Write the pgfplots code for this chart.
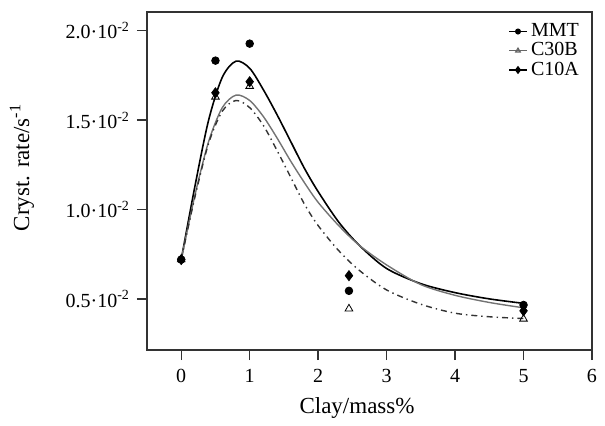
\documentclass[border=0pt]{standalone}
\usepackage{fontspec}
\setmainfont{Liberation Serif}
\usepackage{pgfplots}
\pgfplotsset{compat=1.18}

\begin{document}
\begin{tikzpicture}
\begin{axis}[
    name=ax,
    scale only axis,
    width=222.5pt, height=169pt,
    xmin=-0.5, xmax=6,
    ymin=0.214, ymax=2.105,
    xtick={0,1,2,3,4,5,6},
    ytick={0.5,1.0,1.5,2.0},
    yticklabels={0.5·10\textsuperscript{-2},1.0·10\textsuperscript{-2},1.5·10\textsuperscript{-2},2.0·10\textsuperscript{-2}},
    tick pos=left,
    tick align=outside,
    major tick length=5pt,
    axis line style={black!80, line width=1pt},
    every tick/.style={black!80, line width=0.7pt},
    ticklabel style={font=\fontsize{10}{12}\selectfont},
    xticklabel style={yshift=-1pt},
    /pgf/number format/assume math mode=true,
    xlabel={Clay/mass\%},
    ylabel={Cryst. rate/s\textsuperscript{-1}},
    every axis x label/.style={at={(axis description cs:0.472,-0.172)}, anchor=center, font=\fontsize{11.5}{13}\selectfont},
    every axis y label/.style={at={(axis description cs:-0.281,0.54)}, anchor=center, rotate=90, font=\fontsize{11.5}{13}\selectfont},
    legend style={at={(axis description cs:0.985,0.985)}, anchor=north east, draw=none, fill=none,
      font=\fontsize{10}{11}\selectfont, row sep=-2.5pt, inner sep=1pt},
    legend cell align=left,
    legend image code/.code={
      \draw[mark repeat=2,mark phase=2,#1] plot coordinates {(0cm,0cm) (0.15cm,0cm) (0.3cm,0cm)};
    },
]
% fitted curves
\addplot[black, line width=0.8pt, smooth, forget plot] coordinates {
 (0,0.72) (0.2,1.13) (0.4,1.50) (0.6,1.74) (0.8,1.83) (1.0,1.79) (1.2,1.67)
 (1.4,1.53) (1.6,1.38) (1.8,1.23) (2.0,1.10) (2.3,0.93) (2.6,0.80) (3.0,0.67)
 (3.5,0.585) (4.0,0.535) (4.5,0.50) (5.0,0.475)};
\addplot[black!55, line width=0.7pt, smooth, forget plot] coordinates {
 (0,0.72) (0.2,1.08) (0.4,1.38) (0.6,1.57) (0.8,1.64) (1.0,1.61) (1.2,1.52)
 (1.4,1.40) (1.6,1.27) (1.8,1.15) (2.0,1.04) (2.3,0.91) (2.6,0.80) (3.0,0.69)
 (3.5,0.58) (4.0,0.52) (4.5,0.48) (5.0,0.45)};
\addplot[black!80, line width=0.7pt, dash dot, smooth, forget plot] coordinates {
 (0,0.72) (0.2,1.07) (0.4,1.37) (0.6,1.55) (0.8,1.61) (1.0,1.57) (1.2,1.47)
 (1.4,1.33) (1.6,1.18) (1.8,1.03) (2.0,0.91) (2.3,0.77) (2.6,0.66) (3.0,0.55)
 (3.5,0.47) (4.0,0.42) (4.5,0.40) (5.0,0.39)};
% measured points
\addplot[only marks, mark=triangle, mark size=2.2pt, black, forget plot] coordinates {
 (0,0.72) (0.5,1.63) (1,1.69) (2.45,0.445) (5,0.388)};
\addplot[only marks, mark=*, mark size=1.9pt, black, forget plot] coordinates {
 (0,0.72) (0.5,1.833) (1,1.928) (2.45,0.545) (5,0.466)};
\addplot[only marks, mark=diamond*, mark size=2.5pt, black, forget plot] coordinates {
 (0,0.72) (0.5,1.653) (1,1.715) (2.45,0.63) (5,0.433)};
% legend
\addlegendimage{black, line width=0.6pt, mark=*, mark size=1.2pt}
\addlegendentry{MMT}
\addlegendimage{black!60, line width=0.6pt, mark=triangle, mark size=1.3pt}
\addlegendentry{C30B}
\addlegendimage{black, line width=0.6pt, mark=diamond*, mark size=1.6pt}
\addlegendentry{C10A}
\end{axis}
\path[use as bounding box] ([xshift=-73.5pt,yshift=-35pt]ax.south west) rectangle ([xshift=6.5pt,yshift=6pt]ax.north east);
\end{tikzpicture}
\end{document}
